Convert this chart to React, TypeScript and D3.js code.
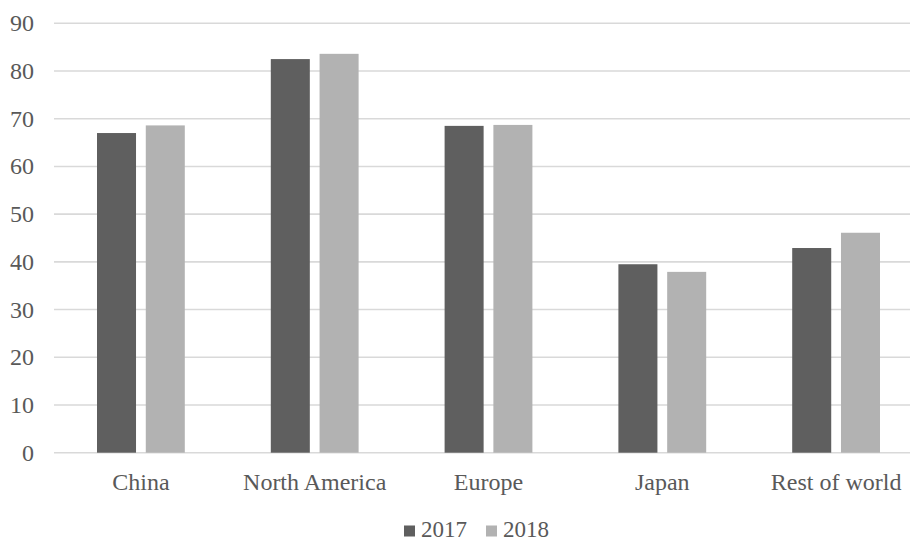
import React from "react";
import * as d3 from "d3";

const categories = ["China", "North America", "Europe", "Japan", "Rest of world"];
const seriesNames = ["2017", "2018"];
const values2017 = [67.0, 82.5, 68.5, 39.5, 42.9];
const values2018 = [68.6, 83.6, 68.7, 37.9, 46.1];
const yTicks = [0, 10, 20, 30, 40, 50, 60, 70, 80, 90];
const seriesColors = ["#5f5f5f", "#b2b2b2"];

const W = 910;
const H = 542;
const FONT = "'Liberation Serif', 'Times New Roman', serif";

export default function App() {
  const x = d3.scaleBand<string>().domain(categories).range([54, 923]).paddingInner(0).paddingOuter(0);
  const inner = d3.scaleBand<string>().domain(seriesNames).range([43, x.bandwidth() - 43]).paddingInner(0.2);
  const y = d3.scaleLinear().domain([0, 90]).range([452.7, 23.3]);
  const series = [values2017, values2018];

  // legend entries: swatch x, label x
  const legend = [
    { sx: 404, tx: 421 },
    { sx: 486, tx: 503 },
  ];

  return (
    <svg width={W} height={H} style={{ position: "absolute", left: 0, top: 0, background: "#fff" }}>
      <rect width={W} height={H} fill="#fff" />
      {yTicks.map((t) => (
        <g key={t}>
          <line x1={54} x2={W} y1={y(t)} y2={y(t)} stroke="#d9d9d9" strokeWidth={1.6} />
          <text x={34} y={y(t)} textAnchor="end" dominantBaseline="central" fontFamily={FONT} fontSize={24} fill="#595959">
            {t}
          </text>
        </g>
      ))}
      {categories.map((c, i) => (
        <g key={c} transform={`translate(${x(c)},0)`}>
          {seriesNames.map((s, j) => (
            <rect
              key={s}
              x={inner(s)}
              width={inner.bandwidth()}
              y={y(series[j][i])}
              height={y(0) - y(series[j][i])}
              fill={seriesColors[j]}
            />
          ))}
          <text x={x.bandwidth() / 2} y={490} textAnchor="middle" fontFamily={FONT} fontSize={24} fill="#595959">
            {c}
          </text>
        </g>
      ))}
      <g>
        {seriesNames.map((s, j) => (
          <g key={s}>
            <rect x={legend[j].sx} y={525.5} width={11} height={11} fill={seriesColors[j]} />
            <text x={legend[j].tx} y={537} fontFamily={FONT} fontSize={23} fill="#595959">{s}</text>
          </g>
        ))}
      </g>
    </svg>
  );
}
